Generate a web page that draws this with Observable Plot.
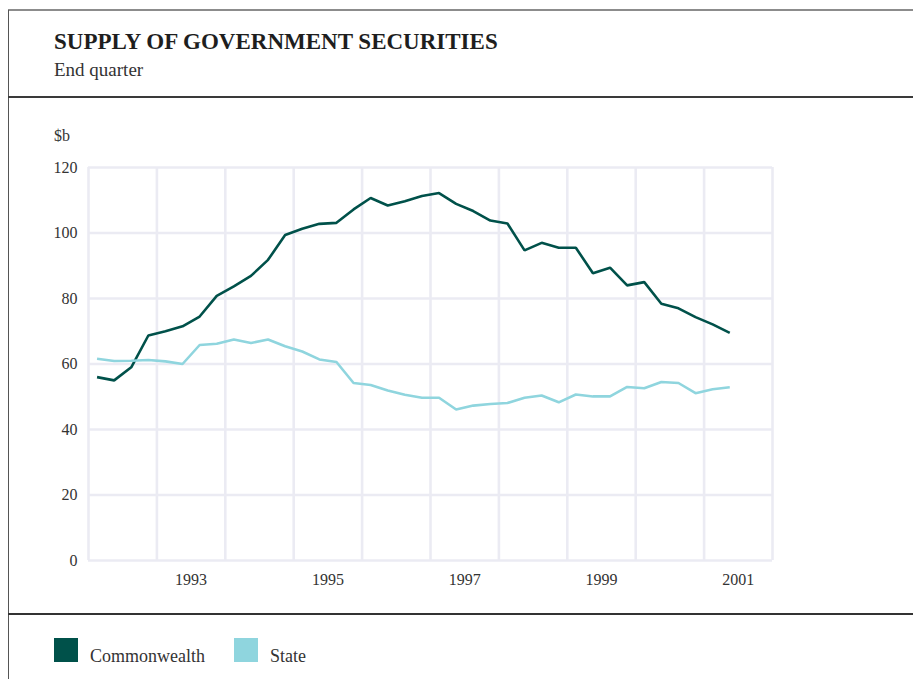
<!DOCTYPE html>
<html>
<head>
<meta charset="utf-8">
<script src="https://cdn.jsdelivr.net/npm/d3@7"></script>
<script src="https://cdn.jsdelivr.net/npm/@observablehq/plot@0.6"></script>
<style>
  html, body { margin: 0; padding: 0; background: #fff; }
  #wrap { position: relative; width: 913px; height: 679px; overflow: hidden; background: #fff; font-family: "Liberation Serif", "DejaVu Serif", serif; color: #222; }
  .rule { position: absolute; }
  #title { position: absolute; left: 54px; top: 29px; font-size: 23px; font-weight: bold; color: #1e1e1e; white-space: nowrap; }
  #subtitle { position: absolute; left: 54px; top: 59px; font-size: 19px; color: #333; white-space: nowrap; }
  #unit { position: absolute; left: 54px; top: 127px; font-size: 16px; color: #333; }
  #chart { position: absolute; left: 0; top: 98px; }
  #legend { position: absolute; left: 54px; top: 638px; display: flex; align-items: flex-start; font-size: 18px; color: #333; }
  .item { display: flex; align-items: flex-start; margin-right: 0; }
  .sw { width: 24px; height: 24px; display: inline-block; }
  .lab { margin-left: 12px; margin-top: 8px; line-height: 20px; }
</style>
</head>
<body>
<div id="wrap">
  <div class="rule" style="left:8px; top:9px; width:905px; height:2px; background:#8c8c8c;"></div>
  <div class="rule" style="left:8px; top:10px; width:1px; height:669px; background:#555;"></div>
  <div class="rule" style="left:8px; top:96px; width:905px; height:2px; background:#3a3a3a;"></div>
  <div class="rule" style="left:8px; top:613px; width:905px; height:1.5px; background:#333;"></div>
  <div id="title"></div>
  <div id="subtitle"></div>
  <div id="unit"></div>
  <div id="chart"></div>
  <div id="legend"></div>
</div>
<script>
// ---- Data ----
const titleText = "SUPPLY OF GOVERNMENT SECURITIES";
const subtitleText = "End quarter";
const unitText = "$b";

const quarters = [
  "1992-03","1992-06","1992-09","1992-12",
  "1993-03","1993-06","1993-09","1993-12",
  "1994-03","1994-06","1994-09","1994-12",
  "1995-03","1995-06","1995-09","1995-12",
  "1996-03","1996-06","1996-09","1996-12",
  "1997-03","1997-06","1997-09","1997-12",
  "1998-03","1998-06","1998-09","1998-12",
  "1999-03","1999-06","1999-09","1999-12",
  "2000-03","2000-06","2000-09","2000-12",
  "2001-03","2001-06"
];

const commonwealth = [
  56.0, 55.0, 59.0, 68.7, 70.0, 71.5, 74.5, 80.8, 83.7, 86.9,
  91.8, 99.4, 101.3, 102.8, 103.1, 107.2, 110.7, 108.4, 109.7, 111.3,
  112.2, 108.9, 106.7, 103.8, 102.9, 94.7, 97.0, 95.5, 95.5, 87.7,
  89.4, 84.0, 85.0, 78.4, 77.0, 74.3, 72.1, 69.5
];

const state = [
  61.6, 60.9, 61.0, 61.2, 60.8, 60.0, 65.8, 66.2, 67.5, 66.4,
  67.5, 65.4, 63.8, 61.4, 60.6, 54.2, 53.6, 51.9, 50.6, 49.7,
  49.7, 46.1, 47.3, 47.8, 48.1, 49.7, 50.4, 48.3, 50.7, 50.1,
  50.1, 53.0, 52.6, 54.5, 54.2, 51.1, 52.3, 52.9
];

const seriesNames = ["Commonwealth", "State"];
const seriesColors = ["#00514a", "#8fd5de"];

const xTickLabels = ["1993", "1995", "1997", "1999", "2001"];
const gridYears = [1992, 1993, 1994, 1995, 1996, 1997, 1998, 1999, 2000, 2001, 2002];
const yTicks = [0, 20, 40, 60, 80, 100, 120];

// ---- Build ----
document.getElementById("title").textContent = titleText;
document.getElementById("subtitle").textContent = subtitleText;
document.getElementById("unit").textContent = unitText;

function qpos(s) {
  const [y, m] = s.split("-").map(Number);
  return y + (m - 1.5) / 12;
}

const rows = [];
[commonwealth, state].forEach((vals, si) => {
  vals.forEach((v, i) => rows.push({ series: seriesNames[si], x: qpos(quarters[i]), value: v }));
});

const xTickPos = xTickLabels.map(l => Number(l) + 0.5);

const chart = Plot.plot({
  width: 913,
  height: 515,
  marginLeft: 88,
  marginRight: 141,
  marginTop: 69,
  marginBottom: 53,
  style: { fontFamily: "'Liberation Serif', 'DejaVu Serif', serif", fontSize: "16px", color: "#333", background: "transparent", overflow: "visible" },
  x: { domain: [1992, 2002] },
  y: { domain: [0, 120] },
  color: { domain: seriesNames, range: seriesColors },
  marks: [
    Plot.gridX(gridYears, { stroke: "#ebebf3", strokeOpacity: 1, strokeWidth: 2.6 }),
    Plot.gridY(yTicks, { stroke: "#ebebf3", strokeOpacity: 1, strokeWidth: 2.6 }),
    Plot.axisX(xTickPos, { tickSize: 0, tickPadding: 13, tickFormat: d => String(Math.floor(d)), label: null, fontSize: 16 }),
    Plot.axisY(yTicks, { tickSize: 0, tickPadding: 11, label: null, fontSize: 16 }),
    Plot.line(rows, { x: "x", y: "value", z: "series", stroke: "series", strokeWidth: 2.6, strokeLinejoin: "miter", strokeLinecap: "butt" })
  ]
});
document.getElementById("chart").appendChild(chart);

const legend = document.getElementById("legend");
seriesNames.forEach((n, i) => {
  const it = document.createElement("div");
  it.className = "item";
  it.style.marginRight = i === 0 ? "29px" : "0";
  const sw = document.createElement("span");
  sw.className = "sw";
  sw.style.background = seriesColors[i];
  const lb = document.createElement("span");
  lb.className = "lab";
  lb.textContent = n;
  it.appendChild(sw);
  it.appendChild(lb);
  legend.appendChild(it);
});
</script>
</body>
</html>
